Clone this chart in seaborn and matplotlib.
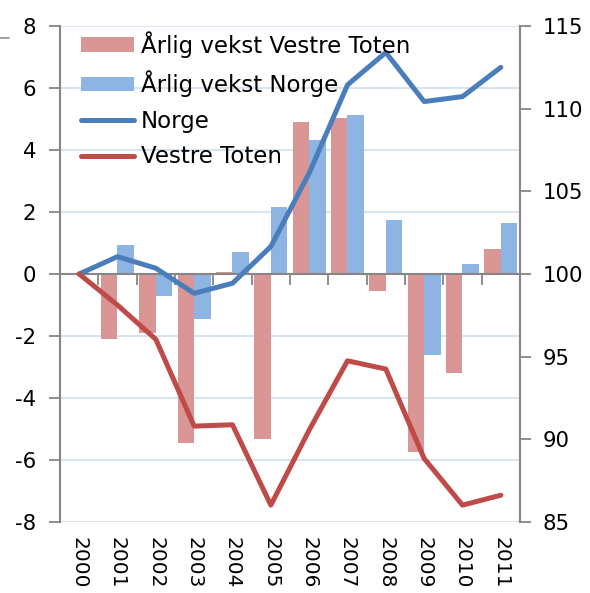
import numpy as np
import pandas as pd
import matplotlib
matplotlib.use("Agg")
import matplotlib.pyplot as plt
import seaborn as sns
from matplotlib.patches import Patch
from matplotlib.lines import Line2D
from matplotlib.ticker import FixedLocator

# ---- data ----
years = list(range(2000, 2012))
year_labels = [str(y) for y in years]
vekst_vestre_toten = [0.0, -2.11, -1.89, -5.46, 0.07, -5.32, 4.91, 5.04, -0.54, -5.75, -3.20, 0.81]
vekst_norge = [0.0, 0.92, -0.70, -1.44, 0.70, 2.16, 4.32, 5.13, 1.74, -2.62, 0.31, 1.65]
indeks_norge = [100, 101.05, 100.35, 98.83, 99.44, 101.66, 106.1, 111.44, 113.4, 110.43, 110.73, 112.5]
indeks_vestre_toten = [100, 98.12, 96.05, 90.8, 90.88, 86.02, 90.56, 94.75, 94.25, 88.84, 86.02, 86.62]
left_ticks = [-8, -6, -4, -2, 0, 2, 4, 6, 8]
right_ticks = [85, 90, 95, 100, 105, 110, 115]

bar_names = ["Årlig vekst Vestre Toten", "Årlig vekst Norge"]
line_names = ["Norge", "Vestre Toten"]

bars = pd.DataFrame({
    "year": years * 2,
    "value": vekst_vestre_toten + vekst_norge,
    "serie": [bar_names[0]] * len(years) + [bar_names[1]] * len(years),
})
lines = pd.DataFrame({
    "year": years * 2,
    "value": indeks_norge + indeks_vestre_toten,
    "serie": [line_names[0]] * len(years) + [line_names[1]] * len(years),
})

# ---- style ----
sns.set_style("white")
plt.rcParams["font.family"] = ["DejaVu Sans"]
plt.rcParams["text.color"] = "black"
plt.rcParams["xtick.labelcolor"] = "black"
plt.rcParams["ytick.labelcolor"] = "black"
FS_TICK = 15.3
FS_X = 14.5
FS_LEG = 16.5
bar_colors = {bar_names[0]: "#D99694", bar_names[1]: "#8EB4E3"}
line_colors = {line_names[0]: "#4A7EBB", line_names[1]: "#BE4B48"}
axis_gray = "#868686"
grid_col = "#D9E4F1"

fig = plt.figure(figsize=(5.9, 5.93), dpi=100)
ax = fig.add_axes([60 / 590, 1 - 522 / 593, 460 / 590, 496 / 593])

sns.barplot(data=bars, x="year", y="value", hue="serie", palette=bar_colors,
            native_scale=True, width=0.86, saturation=1, legend=False, ax=ax,
            edgecolor="none", linewidth=0)

ax2 = ax.twinx()
sns.lineplot(data=lines, x="year", y="value", hue="serie", palette=line_colors,
             lw=3.6, legend=False, ax=ax2, sort=False)

# ---- left axis ----
ax.set_xlim(1999.5, 2011.5)
ax.set_ylim(-8, 8)
ax.set_yticks(left_ticks)
ax.set_yticklabels([str(t) for t in left_ticks])
ax.set_xticks(years)
ax.set_xticklabels(year_labels)
ax.xaxis.set_minor_locator(FixedLocator([y + 0.5 for y in years]))
ax.set_xlabel("")
ax.set_ylabel("")
ax.yaxis.grid(True, color=grid_col, lw=1.5)
ax.xaxis.grid(False)
ax.set_axisbelow(True)

ax.spines["top"].set_position(("data", 0))
ax.spines["top"].set_color(axis_gray)
ax.spines["top"].set_linewidth(1.5)
ax.spines["bottom"].set_visible(False)
ax.spines["right"].set_visible(False)
ax.spines["left"].set_color(axis_gray)
ax.spines["left"].set_linewidth(1.5)
ax.tick_params(axis="x", which="major", bottom=True, top=False, length=0,
               pad=11, labelbottom=True, labeltop=False,
               labelrotation=270, labelsize=FS_X, labelcolor="black")
for lab in ax.get_xticklabels():
    lab.set_va("top")
    lab.set_ha("center")
ax.tick_params(axis="x", which="minor", bottom=False, top=True, direction="in",
               length=8, width=1.3, color=axis_gray)
ax.tick_params(axis="y", which="major", left=True, direction="out", length=8,
               width=1.3, color=axis_gray, pad=9, labelsize=FS_TICK,
               labelcolor="black")

# ---- right axis ----
ax2.set_ylim(85, 115)
ax2.set_yticks(right_ticks)
ax2.set_yticklabels([str(t) for t in right_ticks])
ax2.set_xlabel("")
ax2.set_ylabel("")
ax2.grid(False)
for s in ["top", "bottom", "left"]:
    ax2.spines[s].set_visible(False)
ax2.spines["right"].set_color(axis_gray)
ax2.spines["right"].set_linewidth(1.5)
ax2.tick_params(axis="y", right=True, direction="out", length=8, width=1.3,
                color=axis_gray, pad=8, labelsize=FS_TICK, labelcolor="black")

handles = [Patch(facecolor=bar_colors[n], edgecolor="none") for n in bar_names] + \
          [Line2D([], [], color=line_colors[n], lw=3.6) for n in line_names]
ax2.legend(handles, bar_names + line_names, loc="upper left",
           bbox_to_anchor=(0.046, 0.99), frameon=False, fontsize=FS_LEG,
           handlelength=2.3, handleheight=0.6, handletextpad=0.3,
           labelspacing=0.55, borderaxespad=0.0, borderpad=0.0,
           labelcolor="black")

# small stray mark at top-left as in the reference
fig.add_artist(Line2D([0, 9 / 590], [1 - 37.7 / 593] * 2, color="#9a9a9a", lw=1.3))

fig.savefig("out.png", dpi=100)
